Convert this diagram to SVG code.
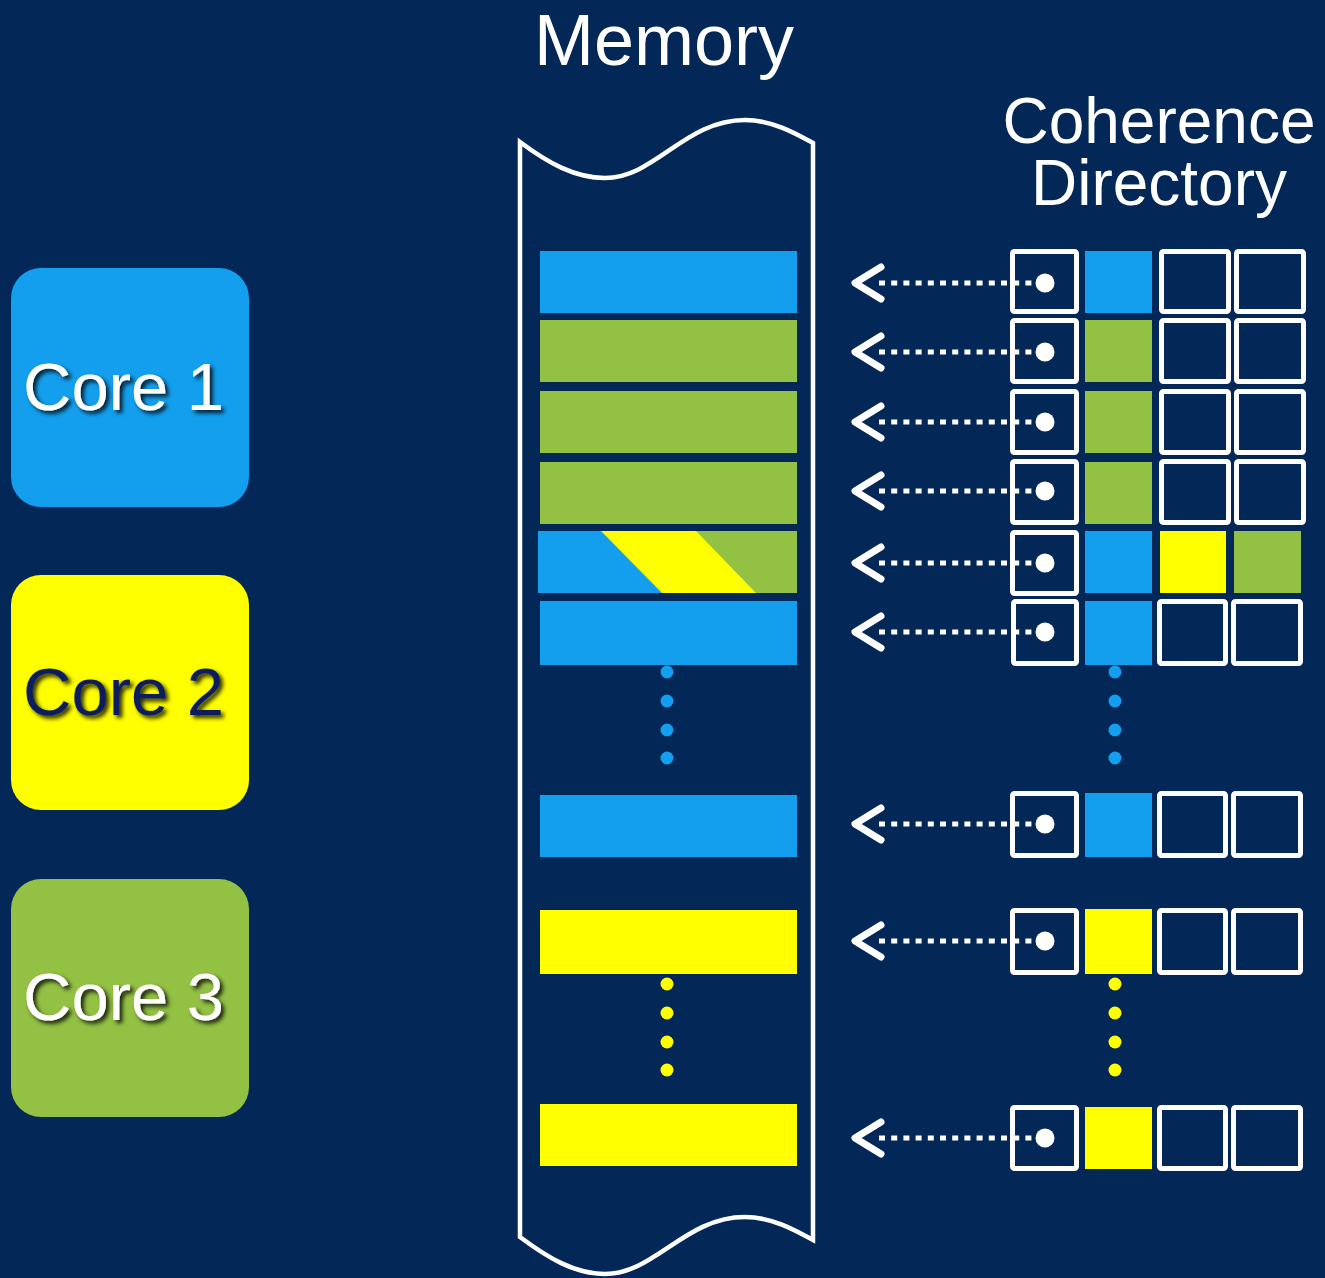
<svg xmlns="http://www.w3.org/2000/svg" width="1325" height="1278" viewBox="0 0 1325 1278">
<defs>
<style>
.t{font-family:"Liberation Sans",Arial,sans-serif}
.core{font-size:67px}
.ol{fill:none;stroke:#fff;stroke-width:5}
.dl{fill:none;stroke:#fff;stroke-width:5;stroke-dasharray:6 6.2}
.ch{fill:none;stroke:#fff;stroke-width:7;stroke-linecap:round;stroke-linejoin:round}
.b{fill:#139FEE}.g{fill:#92C143}.y{fill:#FFFF00}.w{fill:#fff}
</style>
<filter id="sh" x="-10%" y="-20%" width="130%" height="150%">
<feDropShadow dx="3" dy="3" stdDeviation="2" flood-color="#000" flood-opacity="0.85"/>
</filter>
<clipPath id="mx"><rect x="538" y="531" width="259" height="62"/></clipPath>
</defs>
<rect width="1325" height="1278" fill="#032757"/>

<g id="title-memory"><text class="t" x="664" y="65" font-size="72" fill="#fff" text-anchor="middle">Memory</text></g>
<g id="title-directory"><text class="t" x="1159" y="143" font-size="64" fill="#fff" text-anchor="middle">Coherence</text><text class="t" x="1159" y="205" font-size="64" fill="#fff" text-anchor="middle">Directory</text></g>

<g id="core1"><rect x="11" y="268" width="238" height="239" rx="30" class="b"/><text class="t core" x="23" y="410" fill="#fff" filter="url(#sh)">Core 1</text></g>
<g id="core2"><rect x="11" y="575" width="238" height="235" rx="30" class="y"/><text class="t core" x="23" y="715" fill="#0B1F5E" filter="url(#sh)">Core 2</text></g>
<g id="core3"><rect x="11" y="879" width="238" height="238" rx="30" class="g"/><text class="t core" x="23" y="1020" fill="#fff" filter="url(#sh)">Core 3</text></g>

<g id="memory">
<path d="M520,142 C548,163 575,178 605,178 C655,178 685,120 745,120 C772,120 795,133 813,143 L813,1240 C795,1230 772,1217 745,1217 C685,1217 655,1274 605,1274 C575,1274 548,1258 520,1237 Z" fill="none" stroke="#fff" stroke-width="4.5"/>
<rect x="540" y="251" width="257" height="62" class="b"/>
<rect x="540" y="320" width="257" height="62" class="g"/>
<rect x="540" y="391" width="257" height="62" class="g"/>
<rect x="540" y="462" width="257" height="62" class="g"/>
<g clip-path="url(#mx)">
<rect x="538" y="531" width="259" height="62" class="g"/>
<polygon points="538,531 696,531 756,593 538,593" class="y"/>
<polygon points="538,531 601,531 662,593 538,593" class="b"/>
</g>
<rect x="540" y="601" width="257" height="64" class="b"/>
<circle cx="667" cy="672" r="6.5" class="b"/><circle cx="667" cy="701" r="6.5" class="b"/><circle cx="667" cy="730" r="6.5" class="b"/><circle cx="667" cy="758" r="6.5" class="b"/>
<rect x="540" y="795" width="257" height="62" class="b"/>
<rect x="540" y="910" width="257" height="64" class="y"/>
<circle cx="667" cy="984" r="6.5" class="y"/><circle cx="667" cy="1013" r="6.5" class="y"/><circle cx="667" cy="1042" r="6.5" class="y"/><circle cx="667" cy="1070" r="6.5" class="y"/>
<rect x="540" y="1104" width="257" height="62" class="y"/>
</g>

<g id="directory">
<rect x="1012.5" y="251.5" width="64" height="60" rx="2" class="ol"/><rect x="1085" y="251" width="67" height="62" class="b"/><rect x="1161.5" y="251.5" width="67" height="60" rx="2" class="ol"/><rect x="1236.5" y="251.5" width="67" height="60" rx="2" class="ol"/>
<rect x="1012.5" y="320.5" width="64" height="61" rx="2" class="ol"/><rect x="1085" y="320" width="67" height="62" class="g"/><rect x="1161.5" y="320.5" width="67" height="61" rx="2" class="ol"/><rect x="1236.5" y="320.5" width="67" height="61" rx="2" class="ol"/>
<rect x="1012.5" y="391.5" width="64" height="61" rx="2" class="ol"/><rect x="1085" y="391" width="67" height="62" class="g"/><rect x="1161.5" y="391.5" width="67" height="61" rx="2" class="ol"/><rect x="1236.5" y="391.5" width="67" height="61" rx="2" class="ol"/>
<rect x="1012.5" y="461.5" width="64" height="61" rx="2" class="ol"/><rect x="1085" y="462" width="67" height="62" class="g"/><rect x="1161.5" y="461.5" width="67" height="61" rx="2" class="ol"/><rect x="1236.5" y="461.5" width="67" height="61" rx="2" class="ol"/>
<rect x="1012.5" y="532.5" width="64" height="61" rx="2" class="ol"/><rect x="1085" y="531" width="67" height="62" class="b"/><rect x="1160" y="531" width="66" height="62" class="y"/><rect x="1234" y="531" width="67" height="62" class="g"/>
<rect x="1013.5" y="601.5" width="63" height="62" rx="2" class="ol"/><rect x="1085" y="601" width="67" height="64" class="b"/><rect x="1159.5" y="601.5" width="66" height="62" rx="2" class="ol"/><rect x="1233.5" y="601.5" width="67" height="62" rx="2" class="ol"/>
<circle cx="1115" cy="672" r="6.5" class="b"/><circle cx="1115" cy="701" r="6.5" class="b"/><circle cx="1115" cy="730" r="6.5" class="b"/><circle cx="1115" cy="758" r="6.5" class="b"/>
<rect x="1012.5" y="793.5" width="64" height="62" rx="2" class="ol"/><rect x="1085" y="793" width="67" height="64" class="b"/><rect x="1159.5" y="793.5" width="66" height="62" rx="2" class="ol"/><rect x="1233.5" y="793.5" width="67" height="62" rx="2" class="ol"/>
<rect x="1012.5" y="910.5" width="64" height="62" rx="2" class="ol"/><rect x="1085" y="909" width="67" height="65" class="y"/><rect x="1159.5" y="910.5" width="66" height="62" rx="2" class="ol"/><rect x="1233.5" y="910.5" width="67" height="62" rx="2" class="ol"/>
<circle cx="1115" cy="984" r="6.5" class="y"/><circle cx="1115" cy="1013" r="6.5" class="y"/><circle cx="1115" cy="1042" r="6.5" class="y"/><circle cx="1115" cy="1070" r="6.5" class="y"/>
<rect x="1012.5" y="1107.5" width="64" height="61" rx="2" class="ol"/><rect x="1085" y="1107" width="67" height="62" class="y"/><rect x="1159.5" y="1107.5" width="66" height="61" rx="2" class="ol"/><rect x="1233.5" y="1107.5" width="67" height="61" rx="2" class="ol"/>
</g>

<g id="connectors">
<line x1="879" y1="283" x2="1036" y2="283" class="dl"/><polyline points="881,267 855,283 881,299" class="ch"/><circle cx="1045" cy="283" r="9.5" class="w"/>
<line x1="879" y1="352" x2="1036" y2="352" class="dl"/><polyline points="881,336 855,352 881,368" class="ch"/><circle cx="1045" cy="352" r="9.5" class="w"/>
<line x1="879" y1="422" x2="1036" y2="422" class="dl"/><polyline points="881,406 855,422 881,438" class="ch"/><circle cx="1045" cy="422" r="9.5" class="w"/>
<line x1="879" y1="491" x2="1036" y2="491" class="dl"/><polyline points="881,475 855,491 881,507" class="ch"/><circle cx="1045" cy="491" r="9.5" class="w"/>
<line x1="879" y1="563" x2="1036" y2="563" class="dl"/><polyline points="881,547 855,563 881,579" class="ch"/><circle cx="1045" cy="563" r="9.5" class="w"/>
<line x1="879" y1="632" x2="1036" y2="632" class="dl"/><polyline points="881,616 855,632 881,648" class="ch"/><circle cx="1045" cy="632" r="9.5" class="w"/>
<line x1="879" y1="824" x2="1036" y2="824" class="dl"/><polyline points="881,808 855,824 881,840" class="ch"/><circle cx="1045" cy="824" r="9.5" class="w"/>
<line x1="879" y1="941" x2="1036" y2="941" class="dl"/><polyline points="881,925 855,941 881,957" class="ch"/><circle cx="1045" cy="941" r="9.5" class="w"/>
<line x1="879" y1="1138" x2="1036" y2="1138" class="dl"/><polyline points="881,1122 855,1138 881,1154" class="ch"/><circle cx="1045" cy="1138" r="9.5" class="w"/>
</g>
</svg>
